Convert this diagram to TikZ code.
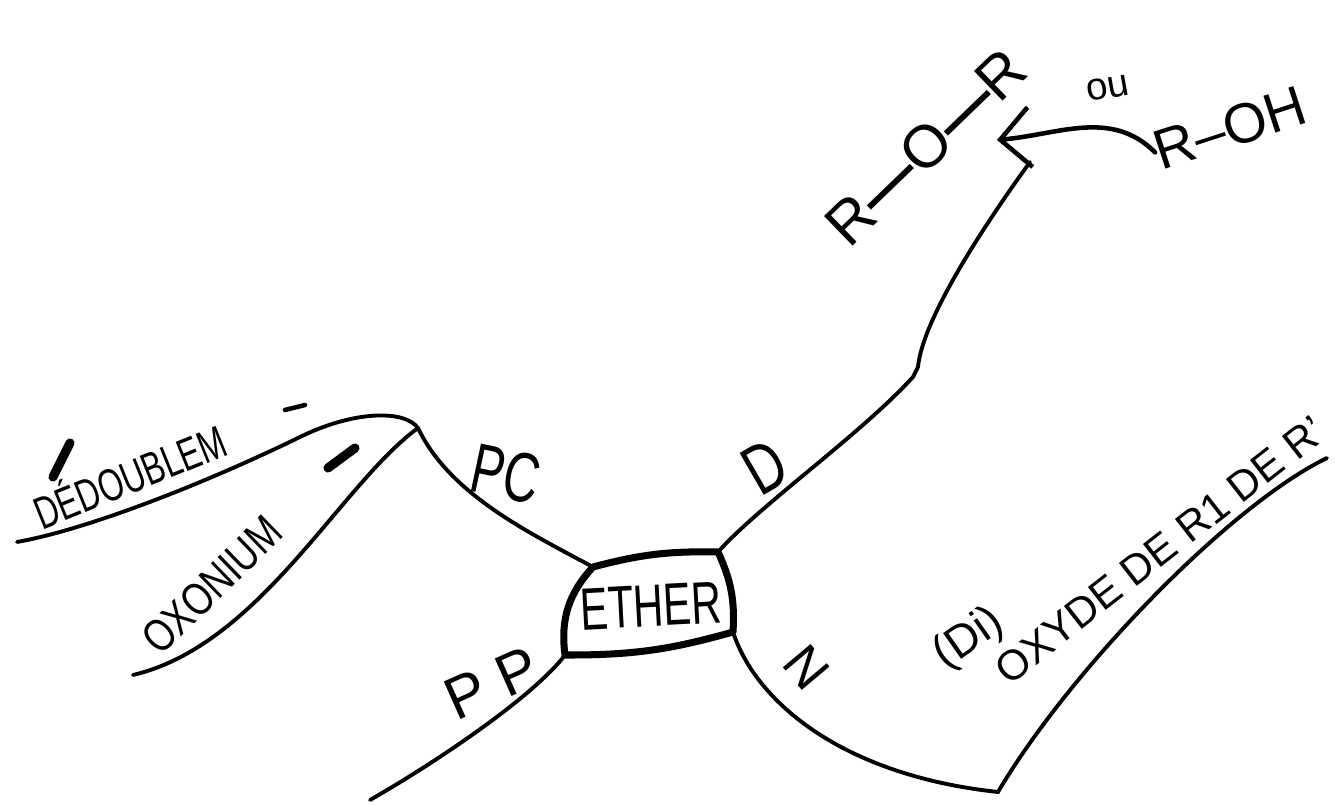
\documentclass[tikz,border=0pt]{standalone}
\usepackage{fontspec}
\setmainfont{Liberation Sans}
\usetikzlibrary{arrows.meta}

\begin{document}
\begin{tikzpicture}[
  branch/.style={line width=1.1pt, line cap=round},
  hand/.style={inner sep=0pt},
]

\useasboundingbox (0,0) rectangle (13.35,8.05);

%% ---------- centre: the ETHER bubble ----------
\node[hand, font=\fontsize{17}{17}\selectfont, rotate=3, xscale=0.7] (ether) at (6.51,1.99) {ETHER};
\coordinate (eNW) at (5.93,2.38);
\coordinate (eNE) at (7.18,2.53);
\coordinate (eSE) at (7.33,1.73);
\coordinate (eSW) at (5.65,1.50);
\draw[line width=2pt, line join=round]
  (eNW) to[bend left=8] (eNE) to[bend left=14] (eSE)
  to[bend left=8] (eSW) to[bend left=25] (eNW);

%% ---------- PC: goes up left, then splits ----------
\coordinate (junc) at (4.18,3.77);
\coordinate (dedEnd) at (0.17,2.63);
\coordinate (oxoEnd) at (1.33,1.30);
\draw[branch] (eNW) .. controls (5.3,2.72) and (4.5,3.1) .. (junc);
\draw[branch] (junc) .. controls (4.05,3.95) and (3.55,3.95) .. (3.0,3.68)
  .. controls (2.1,3.24) and (0.9,2.76) .. (dedEnd);
\draw[branch] (junc) .. controls (3.4,3.2) and (2.6,1.6) .. (oxoEnd);

\node[hand, font=\fontsize{20}{20}\selectfont, rotate=-12, xscale=0.7] (pc) at (5.06,3.31) {PC};
\node[hand, font=\fontsize{13}{13}\selectfont, rotate=22, xscale=0.7] (dedoublem) at (1.29,3.31) {DÉDOUBLEM};
\node[hand, font=\fontsize{13}{13}\selectfont, rotate=44, xscale=0.8] (oxonium) at (2.12,2.20) {OXONIUM};

% the little strokes round the two words
\foreach \ax/\ay/\bx/\by/\w in {0.53/3.28/0.70/3.62/2.6pt, 3.28/3.37/3.55/3.57/2.6pt, 2.85/3.95/3.05/4.00/1.3pt}
  \draw[line width=\w, line cap=round] (\ax,\ay) -- (\bx,\by);

%% ---------- PP ----------
\coordinate (ppEnd) at (3.70,0.05);
\draw[branch] (eSW) .. controls (5.35,1.1) and (4.4,0.45) .. (ppEnd);
\node[hand, font=\fontsize{17}{17}\selectfont, rotate=24] (pp) at (4.92,1.22) {P P};

%% ---------- D: up to R-O-R ----------
\coordinate (dKink) at (9.13,4.28);
\coordinate (dKinkB) at (9.18,4.38);
\coordinate (dTop) at (10.30,6.43);
\draw[branch] (eNE) .. controls (7.6,3.0) and (8.6,3.7) .. (dKink) -- (dKinkB)
  .. controls (9.22,4.8) and (9.7,5.6) .. (dTop);
\node[hand, font=\fontsize{20}{20}\selectfont, rotate=30, xscale=0.75] (d) at (7.65,3.38) {D};

\node[hand, font=\fontsize{17}{17}\selectfont, rotate=44] (ror) at (9.26,6.58)
  {R\textbf{—}O\textbf{—}R};
\node[hand, font=\fontsize{11}{11}\selectfont, rotate=10] (ou) at (11.08,7.17) {ou};
\node[hand, font=\fontsize{16}{16}\selectfont, rotate=18] (roh) at (12.30,6.77) {R–OH};
\coordinate (arrTip) at (9.97,6.65);
\draw[line width=1.3pt, line cap=round, -{Straight Barb[length=3mm, width=6mm]}]
  (roh.west) to[out=135, in=5] (arrTip);

%% ---------- N: down, then up to the name ----------
\coordinate (nLow) at (9.98,0.13);
\coordinate (nTop) at (13.27,3.47);
\draw[branch, line join=miter] (eSE) .. controls (7.55,1.05) and (8.4,0.3) .. (nLow)
  .. controls (10.7,1.35) and (12.3,3.0) .. (nTop);
\node[hand, font=\fontsize{15}{15}\selectfont, rotate=-50] (n) at (8.07,1.38) {N};
\node[hand, font=\fontsize{13}{13}\selectfont, rotate=35] (di) at (9.69,1.66) {(Di)};
\node[hand, font=\fontsize{12}{12}\selectfont, rotate=38] (oxyde) at (11.60,2.55) {OXYDE DE R1 DE R'};

\end{tikzpicture}
\end{document}
